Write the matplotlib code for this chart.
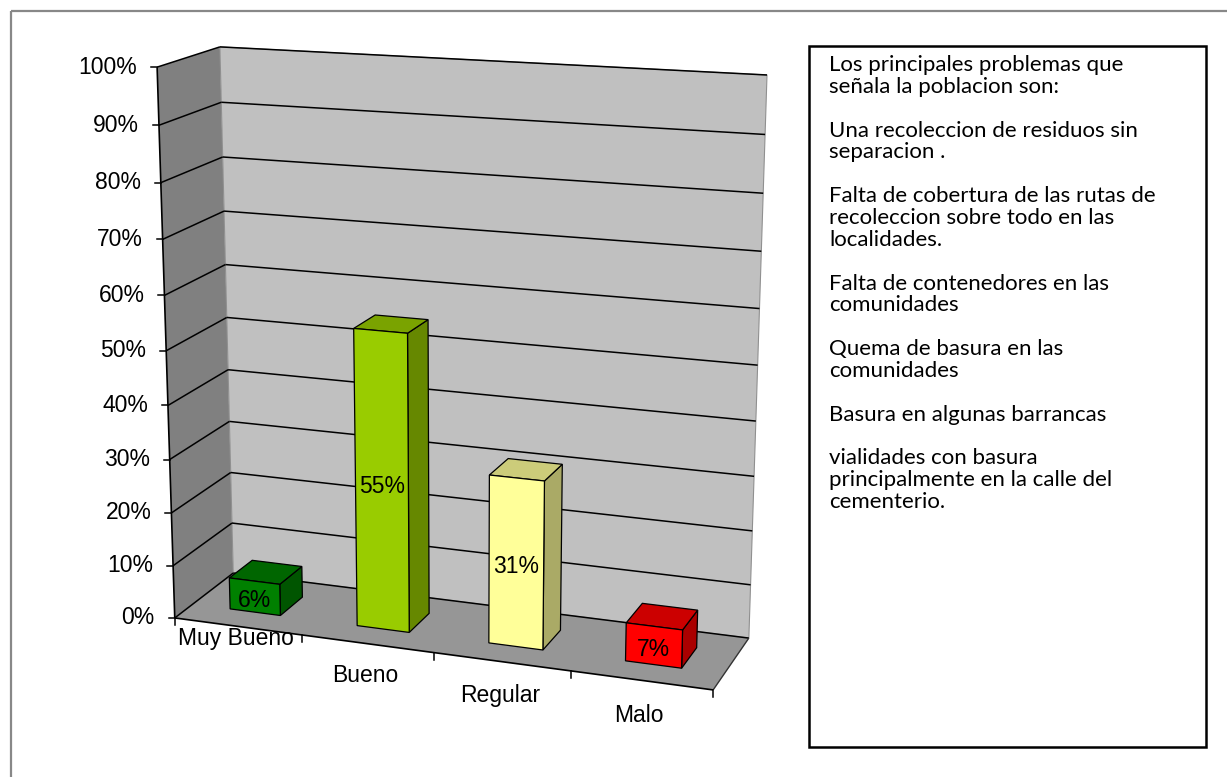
import numpy as np
import matplotlib
matplotlib.use('Agg')
import matplotlib.pyplot as plt
from matplotlib.patches import Polygon, Rectangle

# datos del grafico
categorias = ['Muy Bueno', 'Bueno', 'Regular', 'Malo']
valores = [0.06, 0.55, 0.31, 0.07]
etiquetas = ['6%', '55%', '31%', '7%']
ticks_y = [0.0, 0.1, 0.2, 0.3, 0.4, 0.5, 0.6, 0.7, 0.8, 0.9, 1.0]
ticks_lab = ['0%', '10%', '20%', '30%', '40%', '50%', '60%', '70%', '80%', '90%', '100%']

col_frente = ['#008000', '#99CC00', '#FFFF99', '#FF0000']
col_techo = ['#006600', '#7AA300', '#CCCC7A', '#CC0000']
col_lado = ['#005500', '#668800', '#AAAA66', '#AA0000']

lineas = ["Los principales problemas que", "señala la poblacion son:", "",
          "Una recoleccion de residuos sin", "separacion .", "",
          "Falta de cobertura de las rutas de", "recoleccion sobre todo en las",
          "localidades.", "",
          "Falta de contenedores en las", "comunidades", "",
          "Quema de basura en las", "comunidades", "",
          "Basura en algunas barrancas", "",
          "vialidades con basura", "principalmente en la calle del",
          "cementerio."]

W, H = 1227, 777
fig = plt.figure(figsize=(W / 100, H / 100), dpi=100)
ax = fig.add_axes([0, 0, 1, 1])
ax.set_xlim(0, W)
ax.set_ylim(H, 0)
ax.axis('off')

# calibracion de la perspectiva (caja 3D -> pixeles), estilo Excel
n = len(categorias)
esquinas = np.array([[0, 0, 0], [0, 1, 0], [0, 1, 1], [0, 0, 1],
                     [n, 0, 0], [n, 0, 1], [n, 1, 1]], float)
pix = np.array([[175, 618], [157, 67], [220, 47], [233, 573],
                [713, 690], [749, 638], [767, 75]], float)
m, s = pix.mean(0), pix.std()
pn = (pix - m) / s
filas = []
for (X, Y, Z), (u, v) in zip(esquinas, pn):
    filas.append([X, Y, Z, 1, 0, 0, 0, 0, -u * X, -u * Y, -u * Z, -u])
    filas.append([0, 0, 0, 0, X, Y, Z, 1, -v * X, -v * Y, -v * Z, -v])
P = np.linalg.svd(np.array(filas))[2][-1].reshape(3, 4)


def proj(X, Y, Z):
    h = P @ np.array([X, Y, Z, 1.0])
    return h[:2] / h[2] * s + m


def cara(pts, fc, ec='none', lw=0, z=1):
    ax.add_patch(Polygon([proj(*p) for p in pts], closed=True, fc=fc, ec=ec,
                         lw=lw, zorder=z))


def linea(a, b, c='black', lw=1.1, z=2):
    pa, pb = proj(*a), proj(*b)
    ax.plot([pa[0], pb[0]], [pa[1], pb[1]], color=c, lw=lw, zorder=z,
            solid_capstyle='butt')


# borde exterior y cuadro de texto
ax.add_patch(Rectangle((11, 11), 1400, 900, fill=False, ec='#888888', lw=1.6))
ax.add_patch(Rectangle((809, 46), 397, 701, fill=False, ec='black', lw=1.8))

# paredes y piso
cara([(0, 0, 0), (0, 1, 0), (0, 1, 1), (0, 0, 1)], '#808080')
cara([(0, 0, 1), (0, 1, 1), (n, 1, 1), (n, 0, 1)], '#C0C0C0', ec='#909090', lw=0.8)
cara([(0, 0, 0), (n, 0, 0), (n, 0, 1), (0, 0, 1)], '#969696')

# lineas de division
for t in ticks_y:
    linea((0, t, 0), (0, t, 1))
    linea((0, t, 1), (n, t, 1))

# ejes
linea((0, 0, 0), (0, 1, 0), lw=1.2, z=3)
linea((0, 0, 0), (n, 0, 0), lw=1.2, z=3)
linea((n, 0, 0), (n, 0, 1), c='#333333', lw=1.0, z=3)

fuente = 'Liberation Sans'
for t, lab in zip(ticks_y, ticks_lab):
    x, y = proj(0, t, 0)
    ax.plot([x - 6, x], [y, y], color='black', lw=1.1, zorder=3)
    ax.text(x - 20, y, lab, ha='right', va='center', fontsize=16.5,
            family=fuente, zorder=4)

for i in range(n + 1):
    x, y = proj(i, 0, 0)
    ax.plot([x, x], [y, y + 7], color='black', lw=1.1, zorder=3)

label_dy = [12, 32, 34, 35]
for i, cat in enumerate(categorias):
    x, y = proj(i + 0.5, 0, 0)
    ax.text(x - 2, y + label_dy[i], cat, ha='center', va='center',
            fontsize=16.5, family=fuente, zorder=4)

# barras 3D
ancho, z0, z1 = 0.4, 0.3, 0.7
for i, v in enumerate(valores):
    x0, x1 = i + 0.5 - ancho / 2, i + 0.5 + ancho / 2
    cara([(x1, 0, z0), (x1, 0, z1), (x1, v, z1), (x1, v, z0)], col_lado[i],
         ec='black', lw=0.9, z=5)
    cara([(x0, v, z0), (x1, v, z0), (x1, v, z1), (x0, v, z1)], col_techo[i],
         ec='black', lw=0.9, z=5)
    cara([(x0, 0, z0), (x1, 0, z0), (x1, v, z0), (x0, v, z0)], col_frente[i],
         ec='black', lw=0.9, z=6)
    x, y = proj(i + 0.5, v / 2, z0)
    ax.text(x, y + 4, etiquetas[i], ha='center', va='center', fontsize=16.5,
            family=fuente, zorder=7)

# texto del cuadro
fig.canvas.draw()
ren = fig.canvas.get_renderer()
prueba = ax.text(0, 0, lineas[6], fontsize=12, family='Lato')
ancho_px = prueba.get_window_extent(ren).width
prueba.remove()
tam = 12 * 324 / ancho_px
for k, txt in enumerate(lineas):
    if txt:
        ax.text(829, 65 + k * 21.85, txt, ha='left', va='center', fontsize=tam,
                family='Lato', zorder=4)

fig.savefig('out.png', dpi=100)
